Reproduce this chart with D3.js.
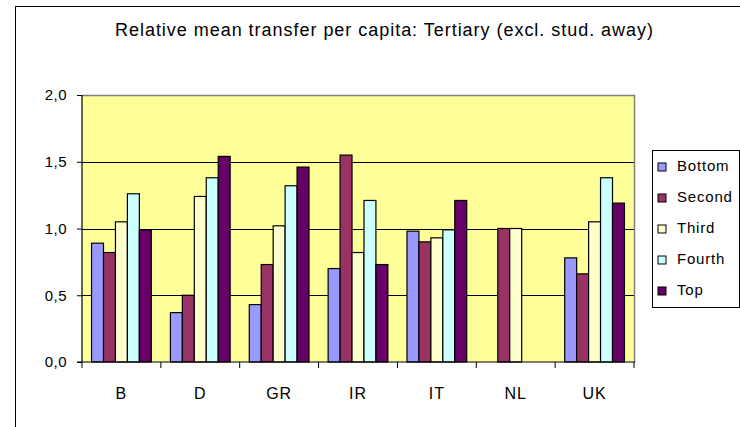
<!DOCTYPE html>
<html>
<head>
<meta charset="utf-8">
<script src="https://cdnjs.cloudflare.com/ajax/libs/d3/7.8.5/d3.min.js"></script>
<style>
  body { margin: 0; background: #fff; }
  text { font-family: "Liberation Sans", Arial, sans-serif; fill: #000; }
</style>
</head>
<body>
<div class="chart"></div>
<script>
var countries = ["B", "D", "GR", "IR", "IT", "NL", "UK"];
var series = ["Bottom", "Second", "Third", "Fourth", "Top"];
var colors = ["#9999FF", "#993366", "#FFFFCC", "#CCFFFF", "#660066"];
var yTicks = [0, 0.5, 1.0, 1.5, 2.0];

// one array per series, in country order (null = no bar)
var bottom = [0.89, 0.37, 0.43, 0.70, 0.98, null, 0.78];
var second = [0.82, 0.50, 0.73, 1.55, 0.90, 1.00, 0.66];
var third  = [1.05, 1.24, 1.02, 0.82, 0.93, 1.00, 1.05];
var fourth = [1.26, 1.38, 1.32, 1.21, 0.99, null, 1.38];
var top_   = [0.99, 1.54, 1.46, 0.73, 1.21, null, 1.19];
var values = [bottom, second, third, fourth, top_];

var width = 740, height = 427;
var plot = { left: 82, right: 634, top: 95, bottom: 362 };

var svg = d3.select(".chart").append("svg")
    .attr("width", width)
    .attr("height", height);

// outer chart frame (runs off the picture at right and bottom)
svg.append("rect")
    .attr("x", 15.5).attr("y", 6.5)
    .attr("width", 800).attr("height", 500)
    .attr("fill", "none")
    .attr("stroke", "#000")
    .attr("stroke-width", 1);

svg.append("text")
    .attr("x", 115).attr("y", 36)
    .attr("font-size", "18px")
    .attr("textLength", 538)
    .attr("lengthAdjust", "spacing")
    .text("Relative mean transfer per capita: Tertiary (excl. stud. away)");

var x0 = d3.scaleBand()
    .domain(countries)
    .range([plot.left, plot.right]);

var x1 = d3.scaleBand()
    .domain(series)
    .range([0, x0.bandwidth()])
    .paddingOuter(0.8);

var y = d3.scaleLinear()
    .domain([0, 2])
    .range([plot.bottom, plot.top]);

// plot background
svg.append("rect")
    .attr("x", plot.left).attr("y", plot.top)
    .attr("width", plot.right - plot.left)
    .attr("height", plot.bottom - plot.top)
    .attr("fill", "#FFFF99");

// grid lines
svg.selectAll(".grid")
    .data(yTicks.filter(d => d > 0 && d < 2))
    .enter().append("line")
    .attr("x1", plot.left).attr("x2", plot.right)
    .attr("y1", d => Math.round(y(d)) + 0.5)
    .attr("y2", d => Math.round(y(d)) + 0.5)
    .attr("stroke", "#000")
    .attr("stroke-width", 1);

// gray top and right border of the plot area
svg.append("path")
    .attr("d", "M" + plot.left + "," + (plot.top + 0.5) + "H" + (plot.right + 0.5) + "V" + plot.bottom)
    .attr("fill", "none")
    .attr("stroke", "#808080")
    .attr("stroke-width", 1.5);

// bars
var bars = [];
series.forEach(function (s, i) {
    countries.forEach(function (c, j) {
        if (values[i][j] != null) bars.push({ country: c, series: s, idx: i, value: values[i][j] });
    });
});

svg.selectAll(".bar")
    .data(bars)
    .enter().append("rect")
    .attr("x", d => x0(d.country) + x1(d.series))
    .attr("y", d => y(d.value))
    .attr("width", x1.bandwidth())
    .attr("height", d => y(0) - y(d.value))
    .attr("fill", d => colors[d.idx])
    .attr("stroke", "#000")
    .attr("stroke-width", 1.2);

// y axis
var yAxis = d3.axisLeft(y)
    .tickValues(yTicks)
    .tickSize(5)
    .tickFormat(d => d3.format(".1f")(d).replace(".", ","));

var gy = svg.append("g")
    .attr("transform", "translate(" + plot.left + ",0)")
    .call(yAxis);
gy.select(".domain").attr("stroke", "#000").attr("stroke-width", 1.2).attr("d", "M0," + plot.top + "V" + plot.bottom);
gy.selectAll("line").attr("stroke", "#000");
gy.selectAll("text")
    .attr("x", -15)
    .attr("font-size", "15px")
    .attr("letter-spacing", "0.5px")
    .attr("font-family", "Liberation Sans, Arial, sans-serif");

// x axis: ticks at category boundaries
var gx = svg.append("g")
    .attr("transform", "translate(0," + plot.bottom + ")");
gx.append("line")
    .attr("x1", plot.left - 5).attr("x2", plot.right + 1)
    .attr("stroke", "#000").attr("stroke-width", 1.2);
gx.selectAll(".tick")
    .data(countries.concat(["end"]))
    .enter().append("line")
    .attr("x1", (d, i) => plot.left + i * x0.step())
    .attr("x2", (d, i) => plot.left + i * x0.step())
    .attr("y1", 0).attr("y2", 6)
    .attr("stroke", "#000");
gx.selectAll(".label")
    .data(countries)
    .enter().append("text")
    .attr("x", d => x0(d) + x0.bandwidth() / 2)
    .attr("y", 37)
    .attr("text-anchor", "middle")
    .attr("font-size", "16px")
    .attr("letter-spacing", "1px")
    .text(d => d);

// legend
var legend = svg.append("g").attr("transform", "translate(652,150)");
legend.append("rect")
    .attr("x", 0.5).attr("y", 0.5)
    .attr("width", 87).attr("height", 157)
    .attr("fill", "#fff")
    .attr("stroke", "#000");
var items = legend.selectAll(".item")
    .data(series)
    .enter().append("g")
    .attr("transform", (d, i) => "translate(0," + (16 + i * 31) + ")");
items.append("rect")
    .attr("x", 6).attr("y", -3)
    .attr("width", 8).attr("height", 8)
    .attr("fill", (d, i) => colors[i])
    .attr("stroke", "#000");
items.append("text")
    .attr("x", 25).attr("y", 5)
    .attr("font-size", "15px")
    .attr("letter-spacing", "0.8px")
    .text(d => d);
</script>
</body>
</html>
